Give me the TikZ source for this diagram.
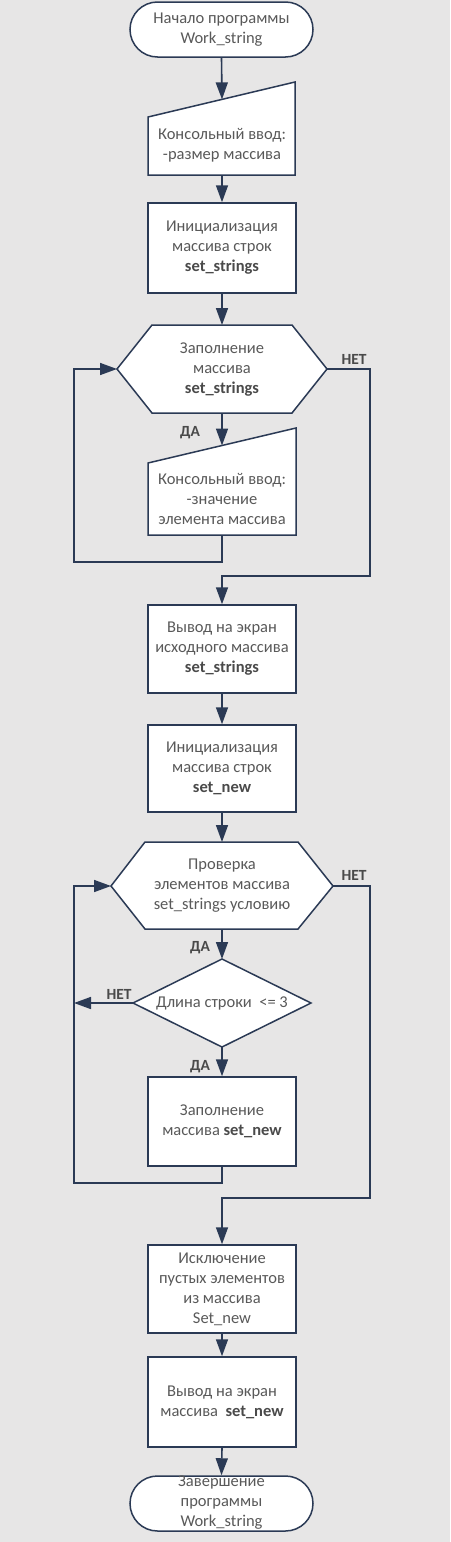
\documentclass[tikz,border=0pt]{standalone}
\usepackage{fontspec}
\setmainfont{Carlito}
\usetikzlibrary{arrows.meta,shapes.misc}
\definecolor{bgc}{HTML}{E7E6E6}
\definecolor{linec}{HTML}{2B3A55}
\definecolor{txtc}{HTML}{595959}
\definecolor{lblc}{HTML}{4A4A4A}
\begin{document}
\begin{tikzpicture}[x=1pt,y=-1pt,
  shp/.style={draw=linec,line width=1.5pt,fill=white},
  txt/.style={text=txtc,align=center,inner sep=0pt,font=\fontsize{16.5}{20}\selectfont},
  term/.style={shp,txt,rounded rectangle,minimum width=183pt,minimum height=55pt},
  proc/.style={shp,txt,rectangle,minimum width=148pt,minimum height=88pt},
  conn/.style={draw=linec,line width=1.6pt},
  arr/.style={conn,-{Triangle[width=12pt,length=17pt]}},
  lbl/.style={text=lblc,inner sep=0pt,font=\fontsize{15.5}{20}\selectfont\bfseries}]
\fill[bgc] (0,0) rectangle (450,1542);
\useasboundingbox (0,0) rectangle (450,1542);

% start
\node[term] (start) at (221.5,29.5) {Начало программы\\Work\_string};

% manual input 1
\draw[shp] (148,117) -- (295,82) -- (295,175) -- (148,175) -- cycle;
\coordinate (in1t) at (222,99.4);
\coordinate (in1b) at (222,175);
\node[txt] (in1) at (222,145) {Консольный ввод:\\-размер массива};

% init 1
\node[proc,minimum height=90pt] (init1) at (222,248) {Инициализация\\массива строк\\\textbf{\color{lblc}set\_strings}};

% hexagon 1
\draw[shp] (117,369) -- (152,325) -- (292,325) -- (327,369) -- (292,413) -- (152,413) -- cycle;
\coordinate (h1n) at (222,325);
\coordinate (h1s) at (222,413);
\coordinate (h1w) at (117,369);
\coordinate (h1e) at (327,369);
\node[txt] (hex1) at (222,370) {Заполнение\\массива\\\textbf{\color{lblc}set\_strings}};

% manual input 2
\draw[shp] (148,463) -- (296,428) -- (296,535) -- (148,535) -- cycle;
\coordinate (in2t) at (222,445.5);
\coordinate (in2b) at (222,535);
\node[txt] (in2) at (222,499) {Консольный ввод:\\-значение\\элемента массива};

% box 3
\node[proc] (out1) at (222,649) {Вывод на экран\\исходного массива\\\textbf{\color{lblc}set\_strings}};
% box 4
\node[proc,minimum height=87pt] (init2) at (222,768.5) {Инициализация\\массива строк\\\textbf{\color{lblc}set\_new}};

% hexagon 2
\draw[shp] (111,886) -- (145,842) -- (298,842) -- (333,886) -- (298,929) -- (145,929) -- cycle;
\coordinate (h2n) at (222,842);
\coordinate (h2s) at (222,929);
\coordinate (h2w) at (111,886);
\coordinate (h2e) at (333,886);
\node[txt] (hex2) at (222,886) {Проверка\\элементов массива\\set\_strings условию};

% diamond
\draw[shp] (222,959) -- (311,1003) -- (222,1047) -- (133,1003) -- cycle;
\coordinate (dn) at (222,959);
\coordinate (ds) at (222,1047);
\coordinate (dw) at (133,1003);
\node[txt] (dia) at (222,1003) {Длина строки\ \ <= 3};

% box 5
\node[proc,minimum height=89pt] (fill2) at (222,1121.5) {Заполнение\\массива \textbf{\color{lblc}set\_new}};

% box 6
\node[proc] (excl) at (222,1289) {Исключение\\пустых элементов\\из массива\\Set\_new};
% box 7
\node[proc,minimum height=90pt] (out2) at (222,1402) {Вывод на экран\\массива\ \ \textbf{\color{lblc}set\_new}};

% end
\node[term] (finish) at (221.5,1503.5) {};
\node[txt] (fintext) at (221.5,1503) {Завершение\\программы\\Work\_string};

% loop coordinates
\coordinate (l1a) at (222,562);
\coordinate (l1b) at (74,562);
\coordinate (l1c) at (74,369);
\coordinate (n1a) at (370,369);
\coordinate (n1b) at (370,576);
\coordinate (n1c) at (222,576);
\coordinate (l2a) at (222,1183);
\coordinate (l2b) at (74,1183);
\coordinate (l2c) at (74,886);
\coordinate (dwx) at (74,1003);
\coordinate (n2a) at (370,886);
\coordinate (n2b) at (370,1198);
\coordinate (n2c) at (222,1198);

% connectors
\draw[arr] (start.south) -- (in1t);
\draw[arr] (in1b) -- (init1.north);
\draw[arr] (init1.south) -- (h1n);
\draw[arr] (h1s) -- (in2t);
\draw[arr] (in2b) -- (l1a) -- (l1b) -- (l1c) -- (h1w);
\draw[arr] (h1e) -- (n1a) -- (n1b) -- (n1c) -- (out1.north);
\draw[arr] (out1.south) -- (init2.north);
\draw[arr] (init2.south) -- (h2n);
\draw[arr] (h2s) -- (dn);
\draw[arr] (dw) -- (dwx);
\draw[arr] (ds) -- (fill2.north);
\draw[arr] (fill2.south) -- (l2a) -- (l2b) -- (l2c) -- (h2w);
\draw[arr] (h2e) -- (n2a) -- (n2b) -- (n2c) -- (excl.north);
\draw[arr] (excl.south) -- (out2.north);
\draw[arr] (out2.south) -- (finish.north);

% labels
\node[lbl] (lda1) at (190,433) {ДА};
\node[lbl] (lnet1) at (354,359) {НЕТ};
\node[lbl] (lda2) at (200,948) {ДА};
\node[lbl] (lnet2) at (354,875) {НЕТ};
\node[lbl] (lnet3) at (119,994) {НЕТ};
\node[lbl] (lda3) at (200,1067) {ДА};
\end{tikzpicture}
\end{document}
